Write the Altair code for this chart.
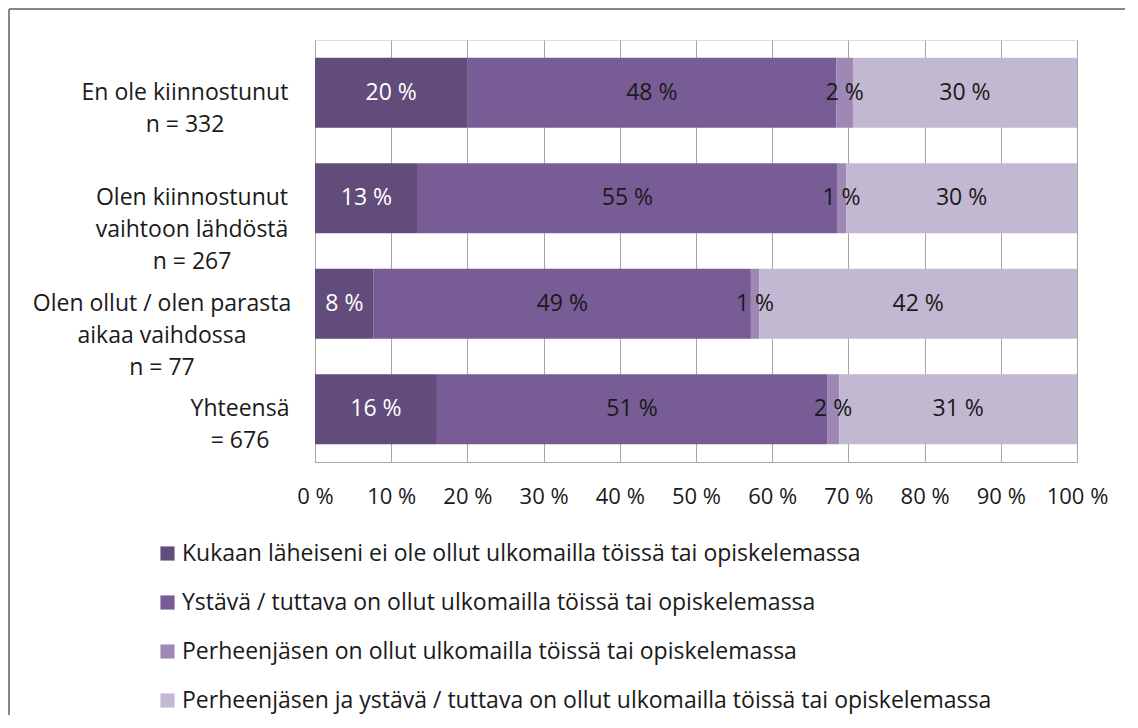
import altair as alt
import pandas as pd

# ---- data ----
cat_keys = [
    "En ole kiinnostunut",
    "Olen kiinnostunut vaihtoon lähdöstä",
    "Olen ollut / olen parasta aikaa vaihdossa",
    "Yhteensä",
]
cat_lines = [
    ["En ole kiinnostunut", "n = 332"],
    ["Olen kiinnostunut", "vaihtoon lähdöstä", "n = 267"],
    ["Olen ollut / olen parasta", "aikaa vaihdossa", "n = 77"],
    ["Yhteensä", "= 676"],
]
series = [
    "Kukaan läheiseni ei ole ollut ulkomailla töissä tai opiskelemassa",
    "Ystävä / tuttava on ollut ulkomailla töissä tai opiskelemassa",
    "Perheenjäsen on ollut ulkomailla töissä tai opiskelemassa",
    "Perheenjäsen ja ystävä / tuttava on ollut ulkomailla töissä tai opiskelemassa",
]
v_none = [20.0, 13.5, 7.7, 16.0]
v_friend = [48.4, 55.0, 49.5, 51.2]
v_family = [2.2, 1.2, 1.1, 1.6]
v_both = [29.4, 30.3, 41.7, 31.2]
lbl_none = ["20 %", "13 %", "8 %", "16 %"]
lbl_friend = ["48 %", "55 %", "49 %", "51 %"]
lbl_family = ["2 %", "1 %", "1 %", "2 %"]
lbl_both = ["30 %", "30 %", "42 %", "31 %"]
x_ticks = [0, 10, 20, 30, 40, 50, 60, 70, 80, 90, 100]

colors = ["#614C7B", "#775C96", "#9D88B6", "#C3B8D1"]
FONT = "Open Sans"
FS = 23

rows = []
for si, (vals, lbls) in enumerate(
    [(v_none, lbl_none), (v_friend, lbl_friend), (v_family, lbl_family), (v_both, lbl_both)]
):
    for ci, cat in enumerate(cat_keys):
        rows.append({"cat": cat, "series": series[si], "order": si,
                     "value": vals[ci], "label": lbls[ci]})
df = pd.DataFrame(rows)

y_enc = alt.Y("cat:N", sort=cat_keys,
              scale=alt.Scale(paddingInner=0.336, paddingOuter=0.168),
              axis=alt.Axis(title=None, labels=False, ticks=False,
                            domainColor="#A6A6A6", domainWidth=1))

base = alt.Chart(df).transform_stack(
    stack="value", groupby=["cat"], as_=["x0", "x1"],
    sort=[alt.SortField("order", order="ascending")]
).transform_calculate(mid="(datum.x0 + datum.x1) / 2")

xscale = alt.Scale(domain=[0, 100], nice=False)

bars = base.mark_bar(size=70).encode(
    y=y_enc,
    x=alt.X("x0:Q", scale=xscale,
            axis=alt.Axis(title=None, values=x_ticks, labelExpr="datum.value + ' %'",
                          grid=True, gridColor="#A6A6A6", gridWidth=1,
                          domainColor="#A6A6A6", ticks=False, tickSize=0,
                          labelFlush=False, labelOverlap=False,
                          labelPadding=24, labelFont=FONT, labelFontSize=22,
                          labelColor="#1a1a1a")),
    x2="x1:Q",
    color=alt.Color("series:N", sort=series,
                    scale=alt.Scale(domain=series, range=colors),
                    legend=alt.Legend(title=None, orient="none", legendX=-159, legendY=502,
                                      direction="vertical", symbolType="square",
                                      symbolSize=200, symbolStrokeWidth=0,
                                      labelFont=FONT, labelFontSize=FS,
                                      labelColor="#1a1a1a", labelOffset=3,
                                      rowPadding=25, labelLimit=1000)),
)

texts = base.mark_text(font=FONT, fontSize=FS).encode(
    y=alt.Y("cat:N", sort=cat_keys),
    x=alt.X("mid:Q", scale=xscale),
    text="label:N",
    color=alt.condition(alt.FieldEqualPredicate(field="series", equal=series[0]),
                        alt.value("white"), alt.value("#1a1a1a")),
)

label_centers = [-130, -123, -153, -75]
cat_layers = []
for ci, cat in enumerate(cat_keys):
    d = pd.DataFrame({"cat": [cat], "lines": [cat_lines[ci]]})
    cat_layers.append(
        alt.Chart(d).mark_text(font=FONT, fontSize=FS, align="center",
                               baseline="middle", lineHeight=32, color="#1a1a1a").encode(
            y=alt.Y("cat:N", sort=cat_keys),
            x=alt.value(label_centers[ci]),
            text="lines",
        )
    )

frame_df = pd.DataFrame({"k": [0]})
frame_top = alt.Chart(frame_df).mark_rule(color="#868686", strokeWidth=2).encode(
    x=alt.value(-306), x2=alt.value(810), y=alt.value(-31))
frame_left = alt.Chart(frame_df).mark_rule(color="#868686", strokeWidth=2).encode(
    x=alt.value(-306), y=alt.value(-31), y2=alt.value(675))

chart = alt.layer(bars, texts, *cat_layers, frame_top, frame_left).properties(
    width=762, height=422, padding=0
).configure_view(stroke=None).configure(background="white")

chart.save("out.html", embed_options={"renderer": "svg", "actions": False})
